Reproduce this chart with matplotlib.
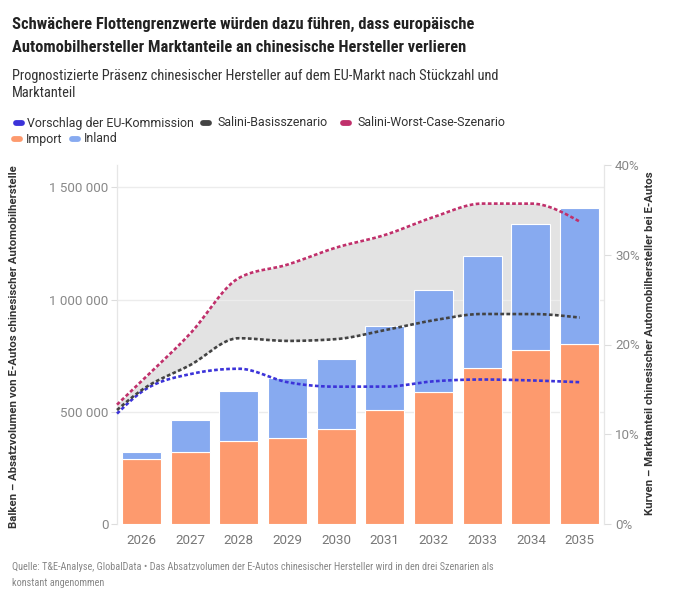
import numpy as np
import matplotlib.pyplot as plt
from matplotlib.lines import Line2D

plt.rcParams['font.family'] = ['Roboto', 'DejaVu Sans']
cond = ['Roboto Condensed', 'Barlow Semi Condensed', 'Roboto']

# data
years = [2026, 2027, 2028, 2029, 2030, 2031, 2032, 2033, 2034, 2035]
import_units = [290000, 320000, 371000, 384000, 424000, 509000, 589000, 696000, 774000, 804000]
total_units = [323000, 464000, 594000, 652000, 735000, 881000, 1042000, 1196000, 1339000, 1408000]
inland_units = [t - i for t, i in zip(total_units, import_units)]

# market share curves (%), first point sits at the left edge of the plot
line_years = [2025.5, 2026, 2027, 2028, 2029, 2030, 2031, 2032, 2033, 2034, 2035]
share_eu = [12.3, 14.7, 16.7, 17.3, 15.8, 15.3, 15.3, 15.9, 16.1, 16.0, 15.8]
share_base = [12.7, 14.9, 17.7, 20.7, 20.4, 20.6, 21.6, 22.7, 23.4, 23.4, 23.0]
share_worst = [13.3, 15.9, 21.2, 27.4, 28.9, 30.8, 32.2, 34.2, 35.7, 35.7, 33.7]

c_import = '#fd9a6e'
c_inland = '#87aaf0'
c_eu = '#3c33d9'
c_base = '#434343'
c_worst = '#c0306b'


def monotone(x, y, n=300):
    # d3.curveMonotoneX style smoothing
    x = np.asarray(x, float)
    y = np.asarray(y, float)
    h = np.diff(x)
    s = np.diff(y) / h
    m = np.zeros(len(x))
    for k in range(1, len(x) - 1):
        p = (s[k - 1] * h[k] + s[k] * h[k - 1]) / (h[k - 1] + h[k])
        m[k] = (np.sign(s[k - 1]) + np.sign(s[k])) * min(abs(s[k - 1]), abs(s[k]), 0.5 * abs(p))
    m[0] = (3 * s[0] - m[1]) / 2
    m[-1] = (3 * s[-1] - m[-2]) / 2
    xs = np.linspace(x[0], x[-1], n)
    idx = np.clip(np.searchsorted(x, xs) - 1, 0, len(x) - 2)
    t = (xs - x[idx]) / h[idx]
    h00 = 2 * t**3 - 3 * t**2 + 1
    h10 = t**3 - 2 * t**2 + t
    h01 = -2 * t**3 + 3 * t**2
    h11 = t**3 - t**2
    ys = h00 * y[idx] + h10 * h[idx] * m[idx] + h01 * y[idx + 1] + h11 * h[idx] * m[idx + 1]
    return xs, ys


fig = plt.figure(figsize=(6.77, 6.0), dpi=100)
ax = fig.add_axes([117 / 677, 1 - 524 / 600, (604 - 117) / 677, (524 - 165) / 600])
ax2 = ax.twinx()

ind = np.arange(len(years))
ax.bar(ind, import_units, 0.8, color=c_import, edgecolor='white', linewidth=0.8, zorder=2)
ax.bar(ind, inland_units, 0.8, bottom=import_units, color=c_inland, edgecolor='white', linewidth=0.8, zorder=2)

ax.set_xlim(-0.5, len(years) - 0.5)
ax.set_ylim(0, 1600000)
ax.set_yticks([0, 500000, 1000000, 1500000])
ax.set_yticklabels(['0', '500 000', '1 000 000', '1 500 000'])
ax.set_xticks(ind)
ax.set_xticklabels([str(y) for y in years])
ax.tick_params(axis='x', length=0, pad=7, labelsize=9.6, labelcolor='#777777')
ax.tick_params(axis='y', length=4, width=0.8, color='#dddddd', pad=2, labelsize=9.6, labelcolor='#888888')
for y in [500000, 1000000, 1500000]:
    ax.axhline(y, color='#ececec', lw=1, zorder=1)

# curves on the right axis
lx = np.array(line_years) - years[0]
xs, yb = monotone(lx, share_base)
_, yw = monotone(lx, share_worst)
_, ye = monotone(lx, share_eu)
ax2.fill_between(xs, yb, yw, color='#e3e3e3', lw=0, zorder=0)
ax.set_zorder(ax2.get_zorder() + 1)
ax.patch.set_visible(False)
# draw lines on the front axes so they sit over the bars
scale = 1600000 / 40
for yy, c in [(ye, c_eu), (yb, c_base), (yw, c_worst)]:
    ax.plot(xs, yy * scale, color=c, lw=1.9, dashes=(1.4, 0.9), zorder=4, clip_on=False)

ax2.set_ylim(0, 40)
ax2.set_yticks([0, 10, 20, 30, 40])
ax2.set_yticklabels(['0%', '10%', '20%', '30%', '40%'])
ax2.tick_params(axis='y', length=5, width=0.8, color='#dddddd', pad=3, labelsize=9.6, labelcolor='#888888')

for a in (ax, ax2):
    for side in ['top', 'bottom']:
        a.spines[side].set_visible(False)
    a.spines['left'].set_color('#e6e6e6')
    a.spines['right'].set_color('#e6e6e6')

# texts
fig.text(12 / 677, 1 - 29 / 600, 'Schwächere Flottengrenzwerte würden dazu führen, dass europäische',
         family=cond, weight='bold', size=11.9, color='#222222', va='baseline')
fig.text(12 / 677, 1 - 52 / 600, 'Automobilhersteller Marktanteile an chinesische Hersteller verlieren',
         family=cond, weight='bold', size=11.9, color='#222222', va='baseline')
fig.text(12 / 677, 1 - 80 / 600, 'Prognostizierte Präsenz chinesischer Hersteller auf dem EU-Markt nach Stückzahl und',
         family=cond, size=10.4, color='#333333', va='baseline')
fig.text(12 / 677, 1 - 97 / 600, 'Marktanteil',
         family=cond, size=10.4, color='#333333', va='baseline')

legend_rows = [
    [(16, 27, c_eu, 'Vorschlag der EU-Kommission'), (203, 217, c_base, 'Salini-Basisszenario'),
     (343, 357, c_worst, 'Salini-Worst-Case-Szenario')],
    [(14, 26, c_import, 'Import'), (72, 84, c_inland, 'Inland')],
]
for row, ypx in zip(legend_rows, [123, 139]):
    for xpill, xtext, c, label in row:
        fig.add_artist(Line2D([xpill / 677, (xpill + 6) / 677], [1 - ypx / 600] * 2, color=c, lw=4.2,
                              solid_capstyle='round', transform=fig.transFigure))
        fig.text(xtext / 677, 1 - ypx / 600, label, size=8.9, color='#333333', va='center')

fig.text(14 / 677, 1 - 347 / 600, 'Balken – Absatzvolumen von E-Autos chinesischer Automobilherstelle',
         rotation=90, ha='center', va='center', size=8.2, weight='bold', color='#333333')
fig.text(650 / 677, 1 - 343 / 600, 'Kurven – Marktanteil chinesischer Automobilhersteller bei E-Autos',
         rotation=90, ha='center', va='center', size=8.2, weight='bold', color='#333333')

fig.text(12 / 677, 1 - 570 / 600, 'Quelle: T&E-Analyse, GlobalData • Das Absatzvolumen der E-Autos chinesischer '
         'Hersteller wird in den drei Szenarien als',
         family=cond, size=7.4, color='#888888', va='baseline')
fig.text(12 / 677, 1 - 586 / 600, 'konstant angenommen',
         family=cond, size=7.4, color='#888888', va='baseline')

fig.savefig('out.png', dpi=100)
